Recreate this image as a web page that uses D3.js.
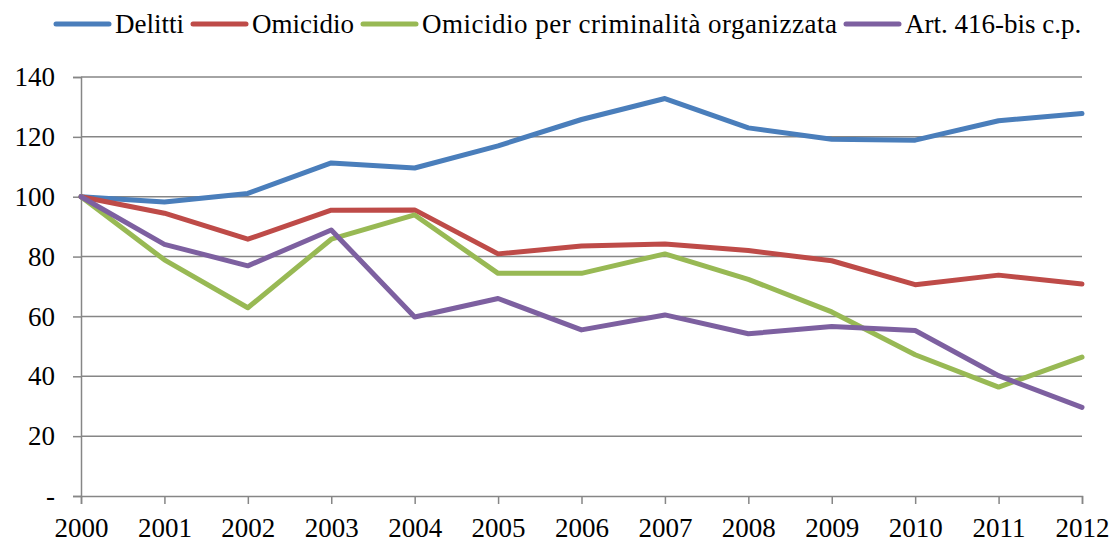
<!DOCTYPE html>
<html>
<head>
<meta charset="utf-8">
<script src="https://cdn.jsdelivr.net/npm/d3@7"></script>
<style>
  body { margin: 0; background: #fff; }
  text { font-family: "Liberation Serif", "DejaVu Serif", serif; }
</style>
</head>
<body>
<div id="chart"></div>
<script>
const years = ["2000","2001","2002","2003","2004","2005","2006","2007","2008","2009","2010","2011","2012"];
const delitti = [100, 98.2, 101.1, 111.3, 109.6, 117, 125.8, 132.8, 123, 119.2, 118.9, 125.4, 127.8];
const omicidio = [100, 94.5, 85.8, 95.5, 95.6, 80.9, 83.5, 84.2, 82, 78.6, 70.6, 73.8, 70.8];
const omicidioOrg = [100, 78.9, 62.9, 85.8, 93.9, 74.4, 74.4, 80.9, 72.4, 61.5, 47.2, 36.4, 46.4];
const art416 = [100, 84.1, 76.9, 88.9, 59.8, 66, 55.5, 60.5, 54.2, 56.6, 55.3, 40.2, 29.6];
const yTicks = [0, 20, 40, 60, 80, 100, 120, 140];

const series = [
  {name: "Delitti", values: delitti, color: "#4a7ebb"},
  {name: "Omicidio", values: omicidio, color: "#be4b48"},
  {name: "Omicidio per criminalità organizzata", values: omicidioOrg, color: "#98b954"},
  {name: "Art. 416-bis c.p.", values: art416, color: "#7d60a0"}
];

const W = 1116, H = 542;
const margin = {top: 77, right: 34, bottom: 46, left: 81};
const width = W - margin.left - margin.right,
      height = H - margin.top - margin.bottom;
const fontSize = 27;

const svg = d3.select("#chart").append("svg")
    .attr("width", W)
    .attr("height", H);

const g = svg.append("g")
    .attr("transform", "translate(" + margin.left + "," + margin.top + ")");

const x = d3.scalePoint()
    .domain(years)
    .range([0, width]);

const y = d3.scaleLinear()
    .domain([0, 140])
    .range([height, 0]);

// griglia orizzontale
g.selectAll(".grid")
    .data(yTicks.filter(d => d > 0))
    .enter().append("line")
    .attr("class", "grid")
    .attr("x1", 0)
    .attr("x2", width)
    .attr("y1", d => y(d))
    .attr("y2", d => y(d))
    .attr("stroke", "#868686")
    .attr("stroke-width", 1.5);

// asse Y
const yAxis = g.append("g")
    .call(d3.axisLeft(y).tickValues(yTicks).tickSize(8).tickPadding(18)
        .tickFormat(d => d === 0 ? "-" : d));
yAxis.select(".domain").attr("stroke", "#868686").attr("stroke-width", 1.5);
yAxis.selectAll(".tick line").attr("stroke", "#868686").attr("stroke-width", 1.5);
yAxis.selectAll("text")
    .attr("font-family", "Liberation Serif")
    .attr("font-size", fontSize)
    .attr("fill", "#000");

// asse X
const xAxis = g.append("g")
    .attr("transform", "translate(0," + height + ")")
    .call(d3.axisBottom(x).tickSize(8).tickPadding(14));
xAxis.select(".domain").attr("stroke", "#868686").attr("stroke-width", 1.5);
xAxis.selectAll(".tick line").attr("stroke", "#868686").attr("stroke-width", 1.5);
xAxis.selectAll("text")
    .attr("font-family", "Liberation Serif")
    .attr("font-size", fontSize)
    .attr("fill", "#000");

// linee
const line = d3.line()
    .x((d, i) => x(years[i]))
    .y(d => y(d));

g.selectAll(".serie")
    .data(series)
    .enter().append("path")
    .attr("class", "serie")
    .attr("d", d => line(d.values))
    .attr("fill", "none")
    .attr("stroke", d => d.color)
    .attr("stroke-width", 5)
    .attr("stroke-linejoin", "round")
    .attr("stroke-linecap", "round");

// legenda
const legend = svg.append("g").attr("transform", "translate(0,24)");
let lx = 56;
series.forEach((s, i) => {
    legend.append("line")
        .attr("x1", lx).attr("x2", lx + 53)
        .attr("y1", 0).attr("y2", 0)
        .attr("stroke", s.color)
        .attr("stroke-width", 5)
        .attr("stroke-linecap", "round");
    const t = legend.append("text")
        .attr("x", lx + 59)
        .attr("y", 9)
        .attr("font-size", fontSize)
        .attr("fill", "#000")
        .text(s.name);
    // la voce lunga è un po' più larga nell'originale (Cambria)
    if (i === 2) t.attr("textLength", 415).attr("lengthAdjust", "spacing");
    const w = i === 2 ? 415 : t.node().getComputedTextLength();
    lx += 59 + w + 9;
});
</script>
</body>
</html>
